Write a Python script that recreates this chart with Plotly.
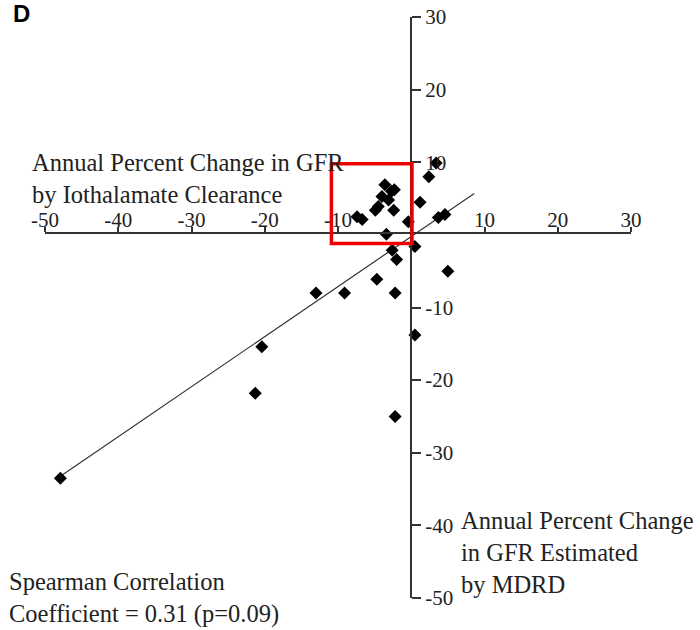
import plotly.graph_objects as go

# Data
mdrd_change = [-47.9, -20.4, -21.3, -13.0, -9.1, -4.7, -2.2, -2.0, -2.6, 0.5,
               5.0, -2.2, 3.4, 2.4, 1.2, -0.4, -3.4, 0.5, 3.7, 4.6,
               -6.7, -7.4, -4.5, -4.9, -4.0, -3.1, -2.7, -2.4, -3.6, -2.3]
iothalamate_change = [-33.5, -15.4, -21.8, -8.0, -8.0, -6.1, -8.0, -3.4, -2.1, -13.8,
                      -5.0, -25.0, 9.9, 8.0, 4.5, 1.8, 0.1, -1.6, 2.4, 2.8,
                      2.1, 2.5, 3.9, 3.4, 5.3, 4.8, 6.0, 3.4, 6.9, 6.2]
fit_x = [-47.7, 8.6]
fit_y = [-33.1, 5.7]
tick_values = [-50, -40, -30, -20, -10, 10, 20, 30]
tick_labels = ["-50", "-40", "-30", "-20", "-10", "10", "20", "30"]
highlight_x = [-10.9, 0.1]
highlight_y = [-1.2, 9.8]

SERIF = "Liberation Serif, Times New Roman, serif"
W, H = 700, 630
ML, MR, MT, MB = 45, 69, 17, 32
PW, PH = W - ML - MR, H - MT - MB


def px_x(p):
    return (p - ML) / PW


def px_y(p):
    return (H - MB - p) / PH


fig = go.Figure()
fig.add_trace(go.Scatter(x=fit_x, y=fit_y, mode="lines",
                         line=dict(color="#333333", width=1.2),
                         hoverinfo="skip", showlegend=False))
fig.add_trace(go.Scatter(x=mdrd_change, y=iothalamate_change, mode="markers",
                         marker=dict(symbol="diamond", size=10, color="black",
                                     line=dict(width=0)),
                         showlegend=False, cliponaxis=False))

fig.add_shape(type="rect", xref="x", yref="y",
              x0=highlight_x[0], x1=highlight_x[1],
              y0=highlight_y[0], y1=highlight_y[1],
              line=dict(color="#ee0000", width=3.5), layer="above")

axis_common = dict(range=[-50, 30], tickvals=tick_values, ticktext=tick_labels,
                   showline=True, linecolor="#333333", linewidth=1.5,
                   ticks="outside", tickcolor="#333333", tickwidth=1.5,
                   showgrid=False, zeroline=False, anchor="free",
                   automargin=False,
                   tickfont=dict(family=SERIF, size=21, color="#222222"),
                   fixedrange=True)

fig.update_layout(
    template="none",
    width=W, height=H,
    margin=dict(l=ML, r=MR, t=MT, b=MB, autoexpand=False),
    paper_bgcolor="white", plot_bgcolor="white",
    xaxis=dict(axis_common, side="top", position=0.629, ticklen=5,
               ticklabelstandoff=-9),
    yaxis=dict(axis_common, side="right", position=0.625, ticklen=9),
    annotations=[
        dict(text="<b>D</b>", xref="paper", yref="paper",
             x=px_x(11), y=px_y(13), xanchor="left", yanchor="middle",
             showarrow=False,
             font=dict(family="Liberation Sans, Arial, sans-serif", size=24, color="black")),
        dict(text="Annual Percent Change in GFR<br>by Iothalamate Clearance",
             xref="paper", yref="paper", x=px_x(30), y=px_y(178),
             xanchor="left", yanchor="middle", align="left", showarrow=False,
             font=dict(family=SERIF, size=24.5, color="#222222")),
        dict(text="Annual Percent Change<br>in GFR Estimated<br>by MDRD",
             xref="paper", yref="paper", x=px_x(459), y=px_y(552),
             xanchor="left", yanchor="middle", align="left", showarrow=False,
             font=dict(family=SERIF, size=24.5, color="#222222")),
        dict(text="Spearman Correlation<br>Coefficient = 0.31 (p=0.09)",
             xref="paper", yref="paper", x=px_x(7), y=px_y(598),
             xanchor="left", yanchor="middle", align="left", showarrow=False,
             font=dict(family=SERIF, size=24.5, color="#222222")),
    ],
)

fig.write_html("out.html")
